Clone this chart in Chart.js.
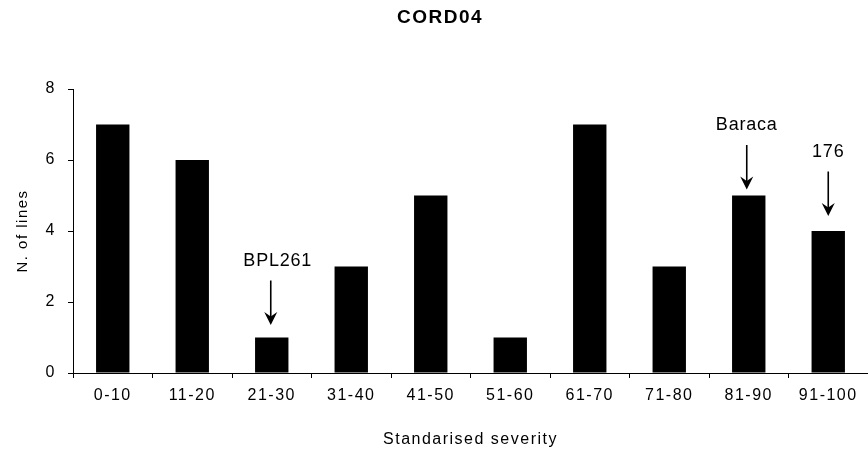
<!DOCTYPE html>
<html lang="en">
<head>
  <meta charset="UTF-8">
  <title>CORD04</title>
  <style>
    html, body { margin: 0; padding: 0; background: #fff; overflow: hidden; }
    #wrap { width: 868px; height: 453px; }
  </style>
</head>
<body>
  <div id="wrap"><canvas id="chart"></canvas></div>

  <script src="https://cdn.jsdelivr.net/npm/chart.js@4"></script>
  <script>
    const severityBins = ['0-10', '11-20', '21-30', '31-40', '41-50', '51-60', '61-70', '71-80', '81-90', '91-100'];
    const lineCounts = [7, 6, 1, 3, 5, 1, 7, 3, 5, 4];
    const yTicks = [0, 2, 4, 6, 8];
    const markedBins = ['21-30', '81-90', '91-100'];
    const markedNames = ['BPL261', 'Baraca', '176'];

    const FONT = '"Liberation Sans", Arial, sans-serif';

    // spread the glyphs a little, like the original figure's text
    const spacing = {
      id: 'spacing',
      beforeDraw(chart) { chart.ctx.letterSpacing = '1.5px'; }
    };

    // named lines with a down arrow over their bar
    const arrowNotes = {
      id: 'arrowNotes',
      afterDatasetsDraw(chart, args, opts) {
        const { ctx, scales: { x, y } } = chart;
        ctx.save();
        ctx.letterSpacing = '0.8px';
        ctx.fillStyle = '#000';
        ctx.strokeStyle = '#000';
        ctx.lineWidth = 1.6;
        ctx.font = '18px ' + FONT;
        ctx.textAlign = 'center';
        ctx.textBaseline = 'middle';
        markedBins.forEach((bin, i) => {
          const idx = severityBins.indexOf(bin);
          const m = opts.marks[i];
          const cx = x.getPixelForValue(idx) + m.dx;
          const tip = y.getPixelForValue(lineCounts[idx]) - m.gap;
          const tail = tip - opts.length;
          ctx.beginPath();
          ctx.moveTo(cx, tail);
          ctx.lineTo(cx, tip - 6);
          ctx.stroke();
          ctx.beginPath();
          ctx.moveTo(cx, tip);
          ctx.lineTo(cx - 6.5, tip - 13);
          ctx.lineTo(cx, tip - 8.5);
          ctx.lineTo(cx + 6.5, tip - 13);
          ctx.closePath();
          ctx.fill();
          ctx.fillText(markedNames[i], cx + m.textDx, tail - opts.textGap);
        });
        ctx.restore();
      }
    };

    new Chart(document.getElementById('chart'), {
      type: 'bar',
      data: {
        labels: severityBins,
        datasets: [{
          data: lineCounts,
          backgroundColor: '#000',
          borderWidth: 0,
          categoryPercentage: 1,
          barPercentage: 0.42
        }]
      },
      options: {
        responsive: true,
        maintainAspectRatio: false,
        animation: false,
        layout: { padding: { left: 12, right: 0, top: 0, bottom: 0 } },
        plugins: {
          legend: { display: false },
          tooltip: { enabled: false },
          title: {
            display: true,
            text: 'CORD04',
            color: '#000',
            font: { family: FONT, size: 19, weight: 'bold' },
            padding: { top: 6, bottom: 60.2 }
          },
          arrowNotes: {
            length: 44.5,
            textGap: 19.5,
            marks: [
              { gap: 12.5, dx: -1, textDx: 7 },
              { gap: 6, dx: -2, textDx: 0 },
              { gap: 15, dx: 0, textDx: 0 }
            ]
          }
        },
        scales: {
          x: {
            offset: true,
            grid: { drawOnChartArea: false, drawTicks: true, tickLength: 5, color: '#000', offset: true },
            border: { color: '#000', width: 1 },
            ticks: { color: '#000', padding: 8, maxRotation: 0, font: { family: FONT, size: 16 } },
            title: {
              display: true,
              text: 'Standarised severity',
              color: '#000',
              font: { family: FONT, size: 16 },
              padding: { top: 0, bottom: 4 }
            },
            afterFit(scale) { scale.height = 80; }
          },
          y: {
            min: 0,
            max: 8,
            afterBuildTicks(scale) { scale.ticks = yTicks.map(v => ({ value: v })); },
            grid: { drawOnChartArea: false, drawTicks: true, tickLength: 5, color: '#000' },
            border: { color: '#000', width: 1 },
            ticks: { color: '#000', padding: 12, font: { family: FONT, size: 16 } },
            title: {
              display: true,
              text: 'N. of lines',
              color: '#000',
              font: { family: FONT, size: 15 },
              padding: { top: 2, bottom: 0 }
            },
            afterFit(scale) { scale.width = 61; }
          }
        }
      },
      plugins: [spacing, arrowNotes]
    });
  </script>
</body>
</html>
